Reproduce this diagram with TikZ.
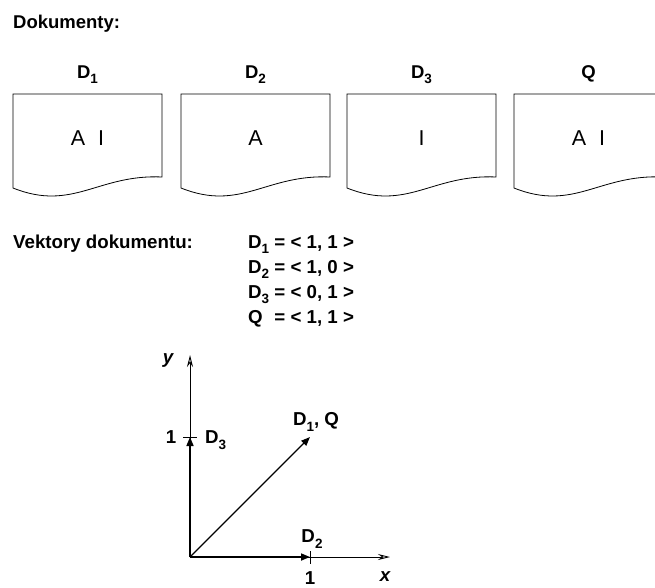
\documentclass[tikz,border=0pt]{standalone}
\usepackage{fontspec}
\usepackage{calc}
\setmainfont{Liberation Sans}
\usetikzlibrary{arrows.meta}
\newcommand{\sbs}[1]{\raisebox{-0.32em}{\fontsize{13.5}{14}\selectfont #1}}
\tikzset{
  lbl/.style={font=\fontsize{18.5}{21}\selectfont\bfseries, inner sep=0pt},
  vlbl/.style={font=\fontsize{18.7}{21}\selectfont\bfseries, inner sep=0pt},
  boxtxt/.style={font=\fontsize{21.5}{24}\selectfont, inner sep=0pt},
  docshape/.style={draw=black, line width=0.8pt},
  axis/.style={line width=0.9pt, -{Stealth[open,length=12pt,width=6pt]}},
  vec/.style={line width=1.6pt, -{Triangle[length=9pt,width=7pt]}},
  diag/.style={line width=1.2pt, -{Triangle[length=9pt,width=7pt]}},
  tick/.style={line width=0.8pt}
}
\begin{document}
\begin{tikzpicture}[x=1pt,y=-1pt]
\useasboundingbox (0,0) rectangle (655,587);
\clip (0,0) rectangle (655,587);
\node[lbl, anchor=base west] (dok) at (13,28.3) {Dokumenty:};
% documents
\foreach \x/\lab/\txt/\nm in {13/D\sbs{1}/A\hspace{0.6em}I/a, 181/D\sbs{2}/A/b, 347/D\sbs{3}/I/c, 514/Q/A\hspace{0.6em}I/d}{
  \draw[docshape] (\x,94) -- (\x+149,94) -- (\x+149,177)
     .. controls (\x+85,174) and (\x+60,212) .. (\x,188) -- cycle;
  \node[lbl, anchor=base] (lab\nm) at (\x+74.5,78) {\lab};
  \node[boxtxt, anchor=base] (txt\nm) at (\x+74.5,145) {\txt};
}
% vectors text
\node[vlbl, anchor=base west] (vek) at (13,248) {Vektory dokumentu:};
\node[vlbl, anchor=base west] (r1) at (248,248) {D\sbs{1} = < 1, 1 >};
\node[vlbl, anchor=base west] (r2) at (248,273) {D\sbs{2} = < 1, 0 >};
\node[vlbl, anchor=base west] (r3) at (248,298) {D\sbs{3} = < 0, 1 >};
\node[vlbl, anchor=base west] (r4) at (248,323) {\makebox[\widthof{D\sbs{1}}][l]{Q} = < 1, 1 >};
% graph
\coordinate (O) at (190,557);
\coordinate (X1) at (310,557);
\coordinate (Y1) at (190,437);
\coordinate (XE) at (390,557);
\coordinate (YE) at (190,355);
\coordinate (P) at (310,437);
\draw[axis] (O) -- (XE);
\draw[axis] (O) -- (YE);
\draw[vec] (O) -- (X1);
\draw[vec] (O) -- (Y1);
\draw[diag] (O) -- (P);
\draw[tick] (310,551) -- (310,564);
\draw[tick] (183,437) -- (197,437);
\node[vlbl] (ylab) at (168,360) {\itshape y};
\node[vlbl] (xlab) at (385,577) {\itshape x};
\node[vlbl] (one1) at (171,437) {1};
\node[vlbl] (one2) at (310,578) {1};
\node[vlbl, anchor=west] (d3) at (205,440) {D\sbs{3}};
\node[vlbl] (d2) at (312,539) {D\sbs{2}};
\node[vlbl] (d1q) at (316,422) {D\sbs{1}, Q};
\end{tikzpicture}
\end{document}
